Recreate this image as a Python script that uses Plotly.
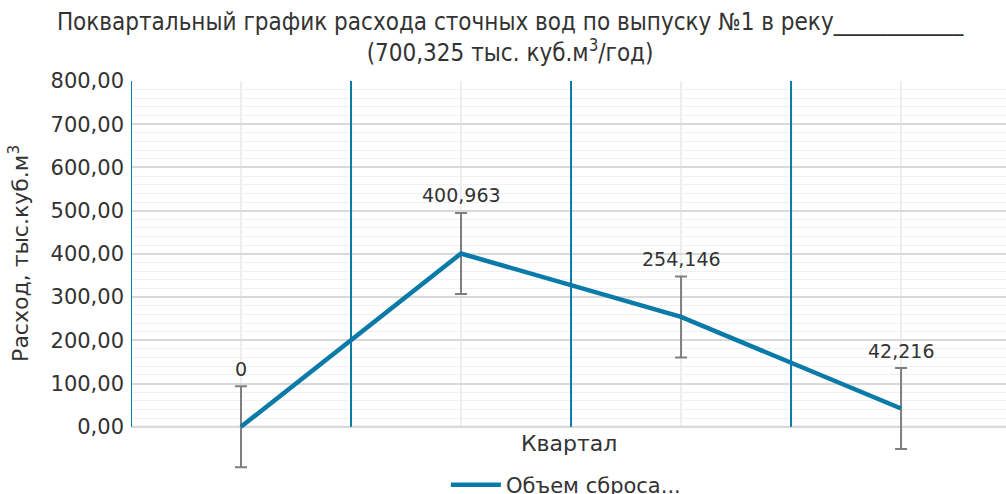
import plotly.graph_objects as go

quarters = ["I", "II", "III", "IV"]
volumes = [0, 400.963, 254.146, 42.216]
errors = [93.8, 93.8, 93.8, 93.8]
value_labels = ["0", "400,963", "254,146", "42,216"]
y_ticks = [0, 100, 200, 300, 400, 500, 600, 700, 800]
y_minor = [v for v in range(20, 800, 20) if v % 100 != 0]

title_text = ("Поквартальный график расхода сточных вод по выпуску №1 в реку____________<br>"
              "(700,325 тыс. куб.м<sup>3</sup>/год)")
x_title = "Квартал"
y_title = "Расход, тыс.куб.м<sup>3</sup>"
series_name = "Объем сброса..."

LINE = "#0a7aa8"
FONT = "DejaVu Sans"
TXT = "#333333"

x_idx = list(range(len(quarters)))
y_top = y_ticks[-1]
y_bottom = -100  # room for the error bar that hangs below zero

fig = go.Figure()
fig.add_trace(go.Scatter(
    x=x_idx, y=volumes, mode="lines", name=series_name,
    line=dict(color=LINE, width=4.5),
    error_y=dict(type="data", array=errors, visible=True, color="#7f7f7f", thickness=2, width=6),
    showlegend=True,
))

shapes = []
# light vertical gridlines at category centres
for i in x_idx:
    shapes.append(dict(type="line", xref="x", yref="y", x0=i, x1=i, y0=0, y1=y_top,
                       line=dict(color="#eeeeee", width=2), layer="below"))
# blue category separators
for i in x_idx:
    shapes.append(dict(type="line", xref="x", yref="y", x0=i - 0.5, x1=i - 0.5, y0=0, y1=y_top,
                       line=dict(color=LINE, width=2), layer="above"))
shapes.append(dict(type="line", xref="paper", yref="y", x0=0, x1=1, y0=0, y1=0,
                   line=dict(color="#d9d9d9", width=2), layer="below"))

annotations = []
for i, v, e, t in zip(x_idx, volumes, errors, value_labels):
    annotations.append(dict(x=i, y=v, xref="x", yref="y", text=t, showarrow=False,
                            yanchor="bottom", yshift=45, font=dict(family=FONT, size=19, color=TXT)))
annotations.append(dict(x=0.5, xref="paper", y=0, yref="y", yanchor="top", yshift=-2,
                        text=x_title, showarrow=False, font=dict(family=FONT, size=22, color=TXT)))
annotations.append(dict(x=-0.128, xref="paper", xanchor="center", y=y_top / 2, yref="y",
                        yanchor="middle", textangle=-90, text=y_title, showarrow=False,
                        font=dict(family=FONT, size=22, color=TXT)))

fig.update_layout(
    width=1006, height=494,
    margin=dict(l=131, r=0, t=81, b=24, autoexpand=False),
    paper_bgcolor="white", plot_bgcolor="white",
    separators=", ",
    title=dict(text=title_text, x=0.507, xanchor="center", y=0.94, yanchor="top",
               font=dict(family="DejaVu Sans Condensed", size=24, color=TXT)),
    xaxis=dict(range=[-0.5, 3.477], tickvals=x_idx, ticktext=quarters, showticklabels=False,
               showgrid=False, zeroline=False, showline=False),
    yaxis=dict(range=[y_bottom, y_top], tickvals=y_ticks, tickformat=".2f", showgrid=True,
               gridcolor="#d9d9d9", gridwidth=1.5, zeroline=False, showline=False,
               minor=dict(tickvals=y_minor, showgrid=True, gridcolor="#f0f0f0", gridwidth=1),
               tickfont=dict(family=FONT, size=21, color=TXT), ticklabelstandoff=6),
    legend=dict(orientation="h", x=0.497, xanchor="center", y=0.014, yanchor="top",
                font=dict(family=FONT, size=21, color=TXT), itemwidth=50),
    shapes=shapes, annotations=annotations,
)

fig.write_html("out.html", config={"displayModeBar": False},
               post_script="document.body.style.margin='0';document.body.style.overflow='hidden';")
